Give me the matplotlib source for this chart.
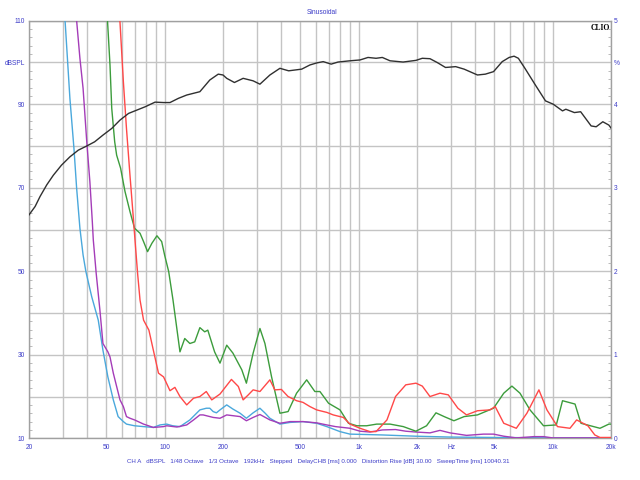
import matplotlib
matplotlib.use("Agg")
import matplotlib.pyplot as plt
from matplotlib.ticker import FixedLocator, NullFormatter

plt.rcParams['font.family'] = ['Liberation Sans', 'DejaVu Sans']

# ---------------- data ----------------
spl_f = [20, 21.5, 22.8, 24.7, 26.7, 29.4, 32.5, 35.9, 39.7, 43.6, 48.1, 53.4, 58.9, 65.2, 72, 79.5,
         89.3, 98.8, 106.6, 117.7, 130, 152, 171, 189, 200, 209, 229, 254, 286, 310, 349, 393, 436,
         509, 561, 610, 657, 722, 783, 903, 1017, 1118, 1230, 1325, 1452, 1696, 1975, 2130, 2333,
         2540, 2805, 3165, 3500, 4100, 4500, 4960, 5500, 5970, 6330, 6660, 7200, 8150, 9190, 10080,
         11250, 11700, 12950, 13950, 15800, 16770, 18150, 19500, 20000]
spl_db = [63.5, 65.5, 67.9, 70.7, 73.0, 75.4, 77.4, 79.0, 80.0, 81.0, 82.6, 84.2, 86.2, 87.8, 88.6, 89.4,
          90.5, 90.4, 90.4, 91.4, 92.2, 93.0, 95.8, 97.2, 97.0, 96.2, 95.2, 96.2, 95.6, 94.8, 97.0, 98.6, 98.0,
          98.4, 99.4, 99.9, 100.2, 99.6, 100.1, 100.4, 100.6, 101.2, 101.0, 101.2, 100.4, 100.1, 100.5, 101.0, 100.9,
          100.0, 98.8, 99.0, 98.4, 97.0, 97.2, 97.8, 100.2, 101.2, 101.5, 101.0, 98.6, 94.6, 90.8, 90.0,
          88.4, 88.8, 88.0, 88.2, 84.8, 84.6, 85.8, 85.0, 84.3]

blue_f = [30.5, 32.5, 34.1, 35.2, 36.6, 38.0, 39.3, 42.1, 45.5, 48.1, 51, 54.4, 57.6, 61.3, 63.6, 70, 77.9,
          87.5, 94.7, 102.5, 110, 120, 135, 152, 164, 171, 178, 185, 193, 209, 225, 245, 264, 286, 310,
          330, 349, 393, 443, 517, 608, 686, 802, 903, 1100, 1325, 1975, 2958, 5000, 10000, 20000]
blue_db = [112, 91.4, 79.4, 69.9, 60.3, 53.9, 49.9, 43.9, 38.3, 31.1, 24.7, 19.2, 15.2, 14.0, 13.4, 13.0, 12.8,
           12.6, 13.2, 13.4, 13.0, 12.8, 14.4, 16.8, 17.2, 17.2, 16.4, 16.1, 16.8, 18.0, 17.0, 16.0, 14.8, 16.1, 17.2,
           16.0, 14.8, 13.4, 13.8, 14.0, 13.6, 12.8, 11.6, 11.0, 10.9, 10.8, 10.5, 10.3, 10.2, 10.1, 10.1]

purple_f = [34.9, 36.6, 38, 39.7, 41.2, 42.4, 42.9, 44.4, 46.4, 48.1, 51, 52.3, 54.4, 56.6, 58.9, 61.3, 63.6,
            66.3, 70, 77.9, 87.5, 98.8, 102.5, 115.8, 130, 141, 152, 158, 178, 193, 209, 245, 264, 286, 310,
            349, 393, 443, 517, 608, 686, 760, 903, 1017, 1145, 1325, 1550, 1750, 1975, 2333, 2627, 2958,
            3600, 4400, 4960, 5600, 6500, 8000, 9000, 10000, 20000]
purple_db = [112, 101, 93.8, 81, 71.4, 61.9, 57.5, 49.5, 40.7, 32.7, 30.7, 29.5, 25.6, 22.4, 19.2, 17.6, 15.2,
             14.8, 14.4, 13.4, 12.6, 12.8, 13.0, 12.7, 13.2, 14.4, 15.6, 15.6, 15.0, 14.8, 15.6, 15.2, 14.2, 15.0, 15.7,
             14.4, 13.6, 14.0, 14.0, 13.7, 13.2, 12.8, 12.4, 11.7, 11.5, 12.0, 12.1, 11.7, 11.5, 11.3, 11.9, 11.3,
             10.7, 11.0, 11.0, 10.5, 10.1, 10.4, 10.4, 10.1, 10.1]

green_f = [50.5, 52.3, 53.4, 55.3, 56.6, 59.3, 62.5, 66.3, 70, 74.7, 77.9, 81.7, 86, 91.3, 96.6, 100, 105,
           110.5, 120, 127, 135, 143, 152, 161, 167, 181, 193, 209, 225, 250, 264, 286, 310, 329, 356, 393,
           433, 479, 540, 595, 632, 700, 802, 887, 980, 1100, 1240, 1452, 1700, 1975, 2240, 2505, 2760, 3100,
           3500, 4100, 4960, 5600, 6170, 6790, 7650, 8980, 10450, 11250, 13050, 14000, 17550, 19500, 20000]
green_db = [112, 99.4, 89, 81, 77.8, 74.7, 69.1, 64.3, 60.3, 59.1, 57.1, 54.7, 56.7, 58.5, 57.1, 53.9, 49.9,
            43.1, 30.7, 33.9, 32.7, 33.1, 36.5, 35.5, 35.9, 30.7, 28.0, 32.3, 30.4, 26.4, 23.2, 30.4, 36.3, 32.7, 24.7, 16.0,
            16.4, 20.8, 24.0, 21.2, 21.2, 18.4, 16.8, 13.6, 13.0, 13.0, 13.4, 13.4, 12.8, 11.7, 13.0, 16.1, 15.2, 14.2,
            15.2, 15.6, 17.2, 20.8, 22.5, 20.8, 16.8, 13.0, 13.2, 19.0, 18.2, 13.6, 12.4, 13.4, 13.4]

red_f = [58.5, 61.3, 63.6, 66.3, 68.8, 70.9, 72.7, 74.7, 77.9, 83, 87.5, 93, 98.8, 106.6, 113, 120, 130, 141,
         152, 164, 175, 193, 221, 240, 254, 270, 286, 310, 349, 370, 400, 433, 479, 517, 561, 608, 686, 740,
         834, 903, 1017, 1145, 1230, 1400, 1550, 1750, 1975, 2130, 2333, 2627, 2900, 3250, 3600, 4100, 4750,
         5060, 5600, 6500, 7370, 8500, 9350, 10600, 12290, 13300, 15200, 16500, 17550, 20000]
red_db = [112, 95.4, 84.2, 73.0, 63.5, 55.5, 49.1, 43.1, 38.3, 35.9, 31.1, 25.6, 24.7, 21.4, 22.2, 20.0, 18.0, 19.6,
          20.0, 21.2, 19.2, 20.6, 24.1, 22.4, 19.2, 20.4, 21.6, 21.2, 24.0, 21.6, 21.7, 20.0, 19.0, 18.6, 17.6, 16.8, 16.2, 15.6,
          15.0, 13.4, 12.4, 11.6, 11.6, 14.4, 20.0, 22.8, 23.2, 22.5, 20.0, 20.8, 20.4, 17.2, 15.6, 16.6, 16.8,
          17.6, 13.6, 12.4, 16.0, 21.6, 16.8, 12.8, 12.4, 14.4, 13.0, 10.8, 10.2, 10.2]

x_grid = [20, 30, 40, 50, 60, 70, 80, 90, 100, 200, 300, 400, 500, 600, 700, 800, 900,
          1000, 2000, 3000, 4000, 5000, 6000, 7000, 8000, 9000, 10000, 20000]
x_labels = {20: '20', 50: '50', 100: '100', 200: '200', 500: '500', 1000: '1k', 2000: '2k',
            3000: 'Hz', 5000: '5k', 10000: '10k', 20000: '20k'}
y_labels = {10: '10', 30: '30', 50: '50', 70: '70', 90: '90', 100: 'dBSPL', 110: '110'}
r_labels = {0: '0', 1: '1', 2: '2', 3: '3', 4: '4', 4.5: '%', 5: '5'}

info = ("CH A   dBSPL   1/48 Octave   1/3 Octave   192kHz   Stepped   DelayCHB [ms] 0.000   "
        "Distortion Rise [dB] 30.00   SweepTime [ms] 10040.31")

# ---------------- figure ----------------
txt_col = '#3c3cc8'
grid_col = '#c4c4c4'
fig = plt.figure(figsize=(6.4, 4.8), dpi=100)
fig.patch.set_facecolor('white')
ax = fig.add_axes([29/640, (480-438.3)/480, 582/640, 417.6/480])
ax.set_xscale('log')
ax.set_xlim(20, 20000)
ax.set_ylim(10, 110)

ax.xaxis.set_major_locator(FixedLocator(x_grid))
ax.xaxis.set_minor_locator(FixedLocator([]))
ax.set_xticklabels([x_labels.get(v, '') for v in x_grid])
ax.xaxis.set_minor_formatter(NullFormatter())
yt = list(range(10, 111, 10))
ax.set_yticks(yt)
ax.set_yticklabels([y_labels.get(v, '') for v in yt])
ax.set_yticks(list(range(10, 111, 2)), minor=True)
ax.grid(True, which='major', color=grid_col, linewidth=1.0)
ax.tick_params(axis='x', which='both', length=0, labelsize=4.8, labelcolor=txt_col, pad=4)
ax.tick_params(axis='y', which='major', length=0, labelsize=4.8, labelcolor=txt_col, pad=3)
ax.tick_params(axis='y', which='minor', direction='in', length=2.5, color='#b0b0b0', width=0.6)
for s in ax.spines.values():
    s.set_color('#a0a0a0')
    s.set_linewidth(1.0)

ax2 = ax.twinx()
ax2.set_ylim(0, 5)
rt = [0, 1, 2, 3, 4, 4.5, 5]
ax2.set_yticks(rt)
ax2.set_yticklabels([r_labels[v] for v in rt])
ax2.set_yticks([i / 10 for i in range(0, 51)], minor=True)
ax2.tick_params(axis='y', which='major', length=0, labelsize=4.8, labelcolor=txt_col, pad=2)
ax2.tick_params(axis='y', which='minor', direction='in', length=2.5, color='#b0b0b0', width=0.6)
for s in ax2.spines.values():
    s.set_visible(False)

lw = 1.0
ax.plot(blue_f, blue_db, color='#4aa8dc', lw=lw, zorder=3)
ax.plot(purple_f, purple_db, color='#a43cb8', lw=lw, zorder=3)
ax.plot(green_f, green_db, color='#3c9c3c', lw=lw, zorder=3)
ax.plot(red_f, red_db, color='#ff4848', lw=lw, zorder=3)
ax.plot(spl_f, spl_db, color='#303030', lw=lw, zorder=4)

ax.text(0.999, 0.993, 'CLIO', transform=ax.transAxes, ha='right', va='top',
        fontsize=5.5, fontweight='bold', color='black', family='Liberation Serif')
fig.text(322/640, 1 - 12/480, 'Sinusoidal', ha='center', va='center', fontsize=4.8, color=txt_col)
fig.text(318/640, 1 - 461/480, info, ha='center', va='center', fontsize=4.4, color=txt_col)

fig.savefig('out.png', dpi=100, facecolor='white')
